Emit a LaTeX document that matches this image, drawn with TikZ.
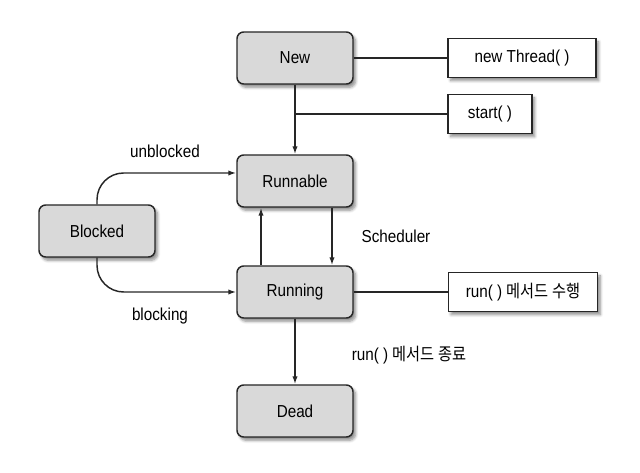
\documentclass[tikz,border=0pt]{standalone}
\usepackage{fontspec}
\setmainfont[FakeStretch=0.88]{Liberation Sans}
\newfontfamily\kor[FakeStretch=0.88]{Noto Sans CJK KR}
\usetikzlibrary{arrows.meta,calc,shadows.blur}
\begin{document}
\begin{tikzpicture}[x=0.75pt,y=0.75pt,yscale=-1,xscale=1,
  state/.style={draw=black!85,line width=1.1pt,rounded corners=5pt,fill=black!15,
    minimum width=87pt,minimum height=39pt,font=\fontsize{13}{15}\selectfont,
    blur shadow={shadow xshift=2pt,shadow yshift=-2.5pt,shadow blur steps=6,shadow opacity=45}},
  note/.style={draw=black!85,line width=1.1pt,fill=white,minimum height=29pt,
    font=\fontsize{13}{15}\selectfont,
    blur shadow={shadow xshift=2pt,shadow yshift=-2.5pt,shadow blur steps=6,shadow opacity=45}},
  lbl/.style={inner sep=0.75pt,font=\fontsize{13}{15}\selectfont},
  line/.style={draw=black!85,line width=1.1pt},
  arr/.style={line,-{Latex[length=6pt,width=4pt]}}]
\useasboundingbox (0,0) rectangle (640,473);
% states
\node[state] (new) at (295,58) {New};
\node[state] (runnable) at (295,181) {Runnable};
\node[state] (blocked) at (97,231) {Blocked};
\node[state] (running) at (295,292) {Running};
\node[state] (dead) at (295,411) {Dead};
% method boxes
\node[note,minimum width=111pt] (thread) at (522,58) {new Thread( )};
\node[note,minimum width=63pt] (start) at (490,114) {start( )};
\node[note,minimum width=112pt] (runbox) at (523,292) {run( ) {\kor 메서드 수행}};
% connectors
\draw[line] (new.east) -- (thread.west);
\draw[arr] (new.south) -- (runnable.north);
\draw[line] (start.west) -- (new.south |- start.west);
\draw[arr,rounded corners=20pt] (blocked.north) |- ($(runnable.west)+(0,-8)$);
\draw[arr,rounded corners=20pt] (blocked.south) |- (running.west);
\draw[arr] ($(running.north)+(-34,0)$) -- ($(runnable.south)+(-34,0)$);
\draw[arr] ($(runnable.south)+(37,0)$) -- ($(running.north)+(37,0)$);
\draw[line] (running.east) -- (runbox.west);
\draw[arr] (running.south) -- (dead.north);
% labels
\node[lbl] (unblk) at (165,151) {unblocked};
\node[lbl] (blk) at (160,316) {blocking};
\node[lbl] (sched) at (396,236) {Scheduler};
\node[lbl] (runend) at (409,355) {run( ) {\kor 메서드 종료}};
\end{tikzpicture}
\end{document}
